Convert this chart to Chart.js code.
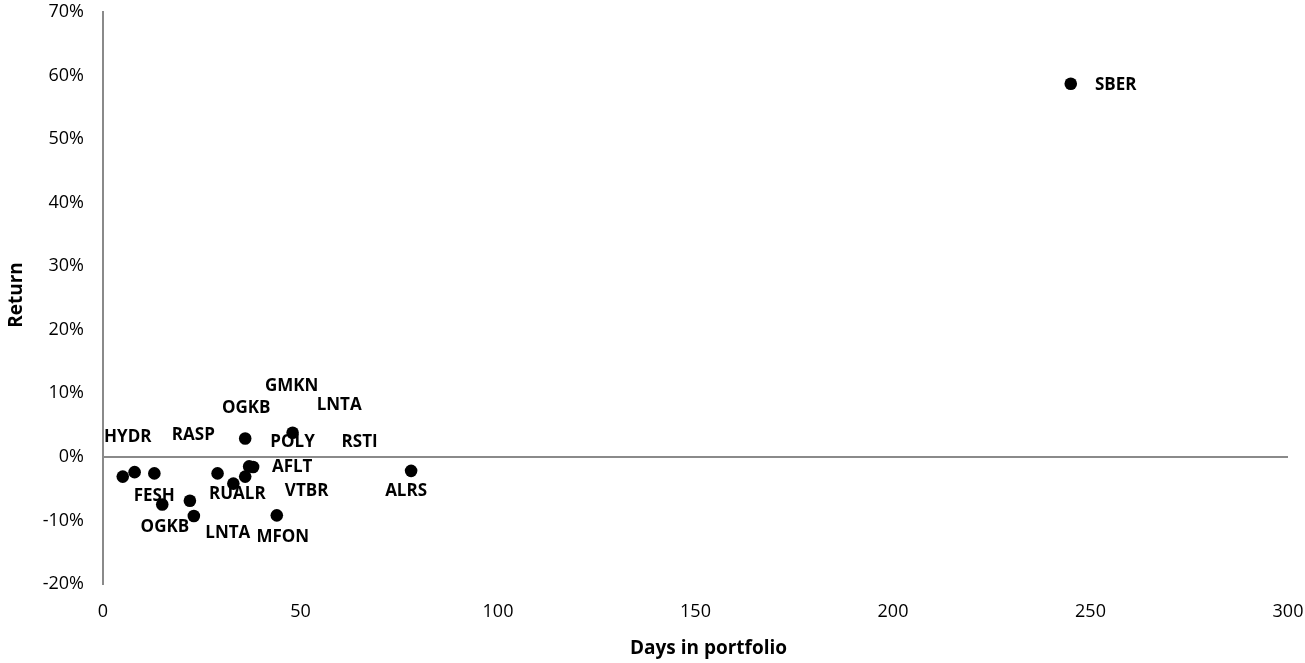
<!DOCTYPE html>
<html>
<head>
<meta charset="utf-8">
<script src="https://cdn.jsdelivr.net/npm/chart.js@4"></script>
<style>
  html, body { margin: 0; padding: 0; background: #ffffff; }
  #wrap { width: 1305px; height: 663px; }
</style>
</head>
<body>
<div id="wrap"><canvas id="c" width="1305" height="663"></canvas></div>
<script>
// ---- data ----
const tickers = ["HYDR", "VTBR", "RASP", "FESH", "OGKB", "LNTA", "POLY", "RUALR", "AFLT", "OGKB", "LNTA", "RSTI", "GMKN", "MFON", "ALRS", "SBER"];
const daysInPortfolio = [5, 8, 13, 15, 22, 23, 29, 33, 36, 36, 37, 38, 48, 44, 78, 245];
const returnPct = [-3.1, -2.4, -2.6, -7.5, -6.9, -9.3, -2.6, -4.2, -3.1, 2.9, -1.5, -1.6, 3.8, -9.2, -2.2, 58.7];
const xTicks = [0, 50, 100, 150, 200, 250, 300];
const yTicks = [-20, -10, 0, 10, 20, 30, 40, 50, 60, 70];

// ---- label placement (pixel offsets from each point, as moved in the original) ----
const labelOffsets = [[5, -39], [172, 19], [39, -38.5], [-8, -8], [-25, 26], [34, 17], [75, -31.5], [4, 11],
                      [47, -9], [1, -30], [90, -61], [106.5, -24.5], [-1, -46.5], [6, 22], [-5, 20], [45, 1]];

const FONT = "'Open Sans', 'Liberation Sans', sans-serif";
const AXIS_GRAY = '#8a8a8a';

const points = daysInPortfolio.map((d, i) => ({ x: d, y: returnPct[i] }));

const labelPlugin = {
  id: 'pointLabels',
  afterDatasetsDraw(chart) {
    const ctx = chart.ctx;
    const meta = chart.getDatasetMeta(0);
    ctx.save();
    ctx.font = "bold 17px " + FONT;
    ctx.fillStyle = '#000';
    ctx.textAlign = 'center';
    ctx.textBaseline = 'middle';
    meta.data.forEach((el, i) => {
      const off = labelOffsets[i];
      ctx.fillText(tickers[i], el.x + off[0], el.y + off[1]);
    });
    ctx.restore();
  }
};

const axisTitles = {
  id: 'axisTitles',
  afterDraw(chart) {
    const ctx = chart.ctx;
    const a = chart.chartArea;
    ctx.save();
    ctx.font = "bold 19px " + FONT;
    ctx.fillStyle = '#000';
    ctx.textAlign = 'center';
    ctx.textBaseline = 'middle';
    ctx.fillText('Days in portfolio', (a.left + a.right) / 2 + 13, a.bottom + 65);
    ctx.translate(17, (a.top + a.bottom) / 2 - 3);
    ctx.rotate(-Math.PI / 2);
    ctx.fillText('Return', 0, 0);
    ctx.restore();
  }
};

new Chart(document.getElementById('c'), {
  type: 'scatter',
  data: {
    datasets: [{
      data: points,
      pointRadius: 6.3,
      pointHoverRadius: 6.3,
      pointBackgroundColor: '#000',
      pointBorderWidth: 0,
      borderColor: '#000'
    }]
  },
  options: {
    responsive: false,
    animation: false,
    devicePixelRatio: 1,
    layout: { padding: { top: 12, right: 17, left: 0, bottom: 0 } },
    plugins: {
      legend: { display: false },
      tooltip: { enabled: false }
    },
    scales: {
      x: {
        type: 'linear',
        min: 0, max: 300,
        afterBuildTicks(scale) { scale.ticks = xTicks.map(v => ({ value: v })); },
        afterFit(scale) { scale.height = 79; scale.paddingLeft = 0; scale.paddingRight = 0; },
        ticks: { font: { family: FONT, size: 18 }, color: '#000', padding: 17, maxRotation: 0 },
        grid: { display: false, drawTicks: false },
        border: { display: false }
      },
      y: {
        type: 'linear',
        min: -20, max: 70,
        afterBuildTicks(scale) { scale.ticks = yTicks.map(v => ({ value: v })); },
        afterFit(scale) { scale.width = 103; scale.paddingTop = 0; scale.paddingBottom = 0; },
        ticks: {
          font: { family: FONT, size: 18 }, color: '#000', padding: 19,
          callback: v => v + '%'
        },
        grid: {
          drawTicks: false,
          color: ctx => (ctx.tick && ctx.tick.value === 0) ? AXIS_GRAY : 'rgba(0,0,0,0)',
          lineWidth: 2
        },
        border: { display: true, color: AXIS_GRAY, width: 2 }
      }
    }
  },
  plugins: [labelPlugin, axisTitles]
});
</script>
</body>
</html>
